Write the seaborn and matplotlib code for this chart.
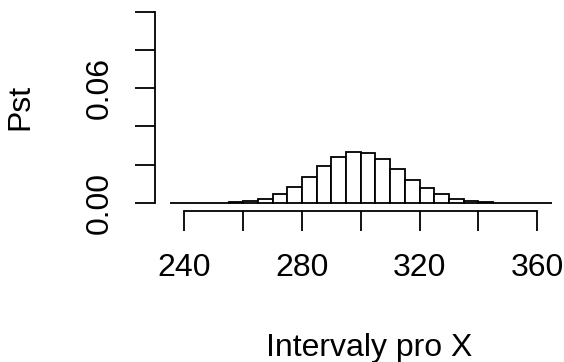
import numpy as np
import pandas as pd
import matplotlib
matplotlib.use("Agg")
import matplotlib.pyplot as plt
import seaborn as sns

# Data (density per bin of width 5)
bin_edges = [235, 240, 245, 250, 255, 260, 265, 270, 275, 280, 285, 290, 295,
             300, 305, 310, 315, 320, 325, 330, 335, 340, 345, 350, 355, 360, 365]
densities = [0.00002, 0.00005, 0.0001, 0.0002, 0.0005, 0.0011, 0.0023, 0.0049,
             0.0085, 0.0136, 0.0191, 0.0243, 0.0268, 0.0263, 0.0230, 0.0177,
             0.0122, 0.0080, 0.0045, 0.0021, 0.0012, 0.0005, 0.0002, 0.0001,
             0.00005, 0.00002]
x_ticks = [240, 260, 280, 300, 320, 340, 360]
x_ticklabels = ["240", "", "280", "", "320", "", "360"]
y_ticks = [0.00, 0.02, 0.04, 0.06, 0.08, 0.10]
y_ticklabels = ["0.00", "", "", "0.06", "", ""]
x_label = "Intervaly pro X"
y_label = "Pst"

mids = [(a + b) / 2 for a, b in zip(bin_edges[:-1], bin_edges[1:])]
df = pd.DataFrame({"mid": mids, "dens": densities})

sns.set_style("white")
plt.rcParams["font.family"] = ["Liberation Sans", "DejaVu Sans"]
FS = 23
LW = 1.3

W, H = 564, 362
fig = plt.figure(figsize=(W / 100, H / 100), dpi=100)
left_px, right_px = 154.5, 567.0
top_px, bottom_px = 4.0, 210.7
ax = fig.add_axes([left_px / W, 1 - bottom_px / H,
                   (right_px - left_px) / W, (bottom_px - top_px) / H])

sns.histplot(data=df, x="mid", weights="dens", bins=bin_edges, stat="count",
             facecolor="white", edgecolor="black", linewidth=LW, alpha=1,
             ax=ax)

ax.set_xlim(229.8, 370.2)
ax.set_ylim(-0.004, 0.104)

for s in ["top", "right"]:
    ax.spines[s].set_visible(False)
for s in ["left", "bottom"]:
    ax.spines[s].set_visible(True)
    ax.spines[s].set_color("black")
    ax.spines[s].set_linewidth(LW)
ax.spines["left"].set_bounds(0, 0.10)
ax.spines["bottom"].set_bounds(240, 360)

ax.set_xticks(x_ticks)
ax.set_xticklabels(x_ticklabels)
ax.set_yticks(y_ticks)
ax.set_yticklabels(y_ticklabels, rotation=90, va="center")
ax.tick_params(axis="both", direction="out", length=14.2, width=LW,
               color="black", labelsize=FS, labelcolor="black")
ax.tick_params(axis="x", pad=16.3, bottom=True)
ax.tick_params(axis="y", pad=14.6, left=True)
ax.set_xlabel("")
ax.set_ylabel("")
ax.grid(False)

fig.text(20 / W, 1 - 107 / H, y_label, rotation=90, ha="center", va="center",
         fontsize=FS, color="black")
fig.text(368.7 / W, 1 - 356 / H, x_label, ha="center", va="baseline",
         fontsize=FS, color="black")

fig.savefig("out.png", dpi=100)
